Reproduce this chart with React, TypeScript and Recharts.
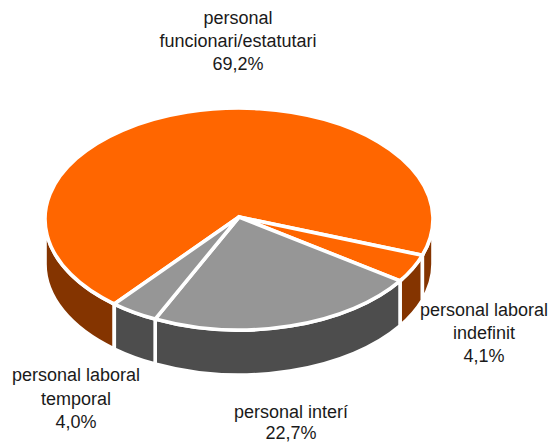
import { PieChart, Pie, Cell } from 'recharts';

const CATEGORIES = [
  ['personal', 'funcionari/estatutari'],
  ['personal laboral', 'indefinit'],
  ['personal interí'],
  ['personal laboral', 'temporal'],
];
const SHARES = [69.2, 4.1, 22.7, 4.0];
const TOP_COLORS = ['#ff6600', '#ff6600', '#969696', '#969696'];
const WALL_COLORS = ['#843400', '#843400', '#4d4d4d', '#4d4d4d'];

// where each label block is centred (first line baseline) and its line step
const LABEL_POS = [
  { x: 238, y: 24, step: 23 },
  { x: 484, y: 316, step: 23 },
  { x: 291, y: 418, step: 21 },
  { x: 76, y: 381, step: 23.5 },
];

const SQUASH = 0.572;
const DEPTH = 45;
const APEX_LIFT = 2;

const chartData = SHARES.map((share, i) => ({
  name: CATEGORIES[i].join(' '),
  value: share,
  wall: WALL_COLORS[i],
}));

function rimPoint(cx: number, cy: number, r: number, deg: number) {
  // recharts angles run counter-clockwise, flip for the screen
  const rad = (-deg * Math.PI) / 180;
  return [cx + r * Math.cos(rad), cy + r * SQUASH * Math.sin(rad)];
}

function wallPath(cx: number, cy: number, r: number, from: number, to: number) {
  const [x0, y0] = rimPoint(cx, cy, r, from);
  const [x1, y1] = rimPoint(cx, cy, r, to);
  const ry = r * SQUASH;
  return (
    `M${x0},${y0} A${r},${ry} 0 0 1 ${x1},${y1} ` +
    `L${x1},${y1 + DEPTH} A${r},${ry} 0 0 0 ${x0},${y0 + DEPTH} Z`
  );
}

function Slice3D(props: any) {
  const { cx, cy, outerRadius: r, startAngle, endAngle, fill } = props;
  const wall = props.wall ?? props.payload?.wall;
  const hi = Math.max(startAngle, endAngle);
  const lo = Math.min(startAngle, endAngle);
  const [sx, sy] = rimPoint(cx, cy, r, hi);
  const [ex, ey] = rimPoint(cx, cy, r, lo);
  const large = hi - lo > 180 ? 1 : 0;

  // only the front half of the rim shows a wall (angles -180..0, repeated every 360)
  const walls: string[] = [];
  for (const base of [-180, -540, 180]) {
    const from = Math.min(hi, base + 180);
    const to = Math.max(lo, base);
    if (from > to) walls.push(wallPath(cx, cy, r, from, to));
  }

  return (
    <g stroke="#ffffff" strokeWidth={3.6}>
      {walls.map((d, i) => (
        <path key={i} d={d} fill={wall} />
      ))}
      <path
        d={`M${cx},${cy - APEX_LIFT} L${sx},${sy} A${r},${r * SQUASH} 0 ${large} 1 ${ex},${ey} Z`}
        fill={fill}
      />
    </g>
  );
}

function SliceLabel(props: any) {
  const { index } = props;
  const pos = LABEL_POS[index];
  const lines = [...CATEGORIES[index], `${SHARES[index].toFixed(1).replace('.', ',')}%`];
  return (
    <text
      x={pos.x}
      y={pos.y}
      textAnchor="middle"
      fontFamily="'Liberation Sans', Arial, sans-serif"
      fontSize={18}
      fill="#1a1a1a"
    >
      {lines.map((line, i) => (
        <tspan key={i} x={pos.x} dy={i === 0 ? 0 : pos.step}>
          {line}
        </tspan>
      ))}
    </text>
  );
}

export default function App() {
  return (
    <div style={{ position: 'absolute', left: 0, top: 0, width: 553, height: 443 }}>
      <PieChart width={553} height={443} margin={{ top: 0, right: 0, bottom: 0, left: 0 }}>
        <Pie
          data={chartData}
          dataKey="value"
          nameKey="name"
          cx={239}
          cy={219}
          innerRadius={0}
          outerRadius={194}
          startAngle={230}
          endAngle={-130}
          shape={Slice3D}
          label={SliceLabel}
          labelLine={false}
          isAnimationActive={false}
        >
          {chartData.map((entry, index) => (
            <Cell key={`cell-${index}`} fill={TOP_COLORS[index]} />
          ))}
        </Pie>
      </PieChart>
    </div>
  );
}
